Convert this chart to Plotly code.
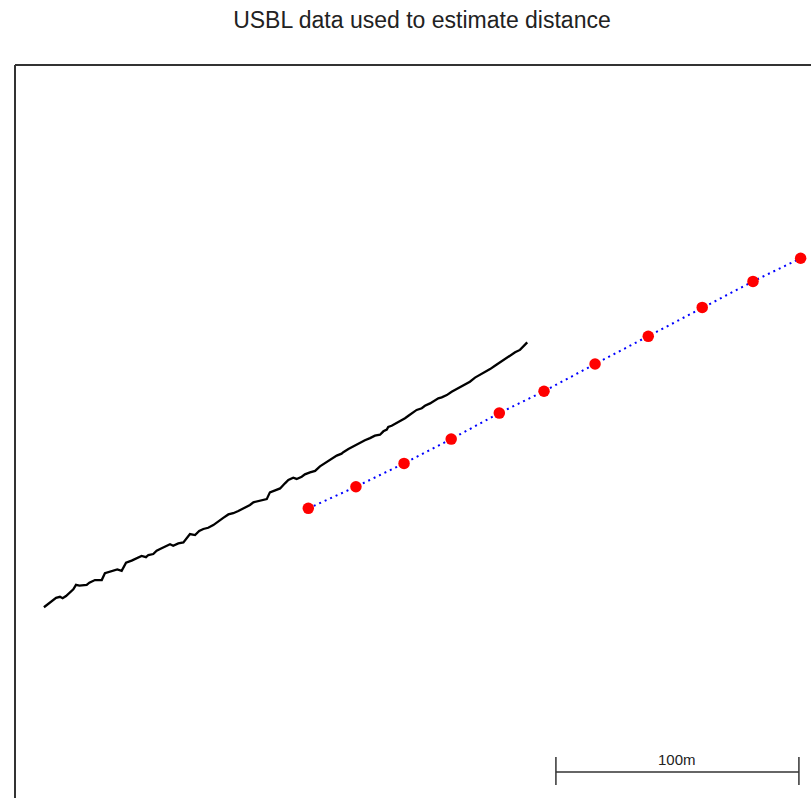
import plotly.graph_objects as go

# Vessel track (metres east / north of the local origin)
track_east = [11.9, 13.0, 15.8, 16.9, 18.5, 19.6, 21.0, 22.3, 23.3, 24.0, 25.1, 26.5, 29.5, 30.6,
              32.9, 35.7, 37.0, 39.1, 40.7, 42.1, 43.9, 45.7, 48.0, 50.1, 52.1, 53.9, 54.9, 56.9,
              58.3, 59.7, 62.4, 63.8, 65.1, 67.2, 69.3, 70.7, 72.0, 74.1, 75.8, 77.5, 79.5, 81.6,
              83.7, 85.7, 87.8, 89.8, 91.9, 94.6, 96.7, 98.1, 100.1, 102.2, 103.6, 104.9, 107.0,
              109.1, 111.1, 112.5, 114.5, 115.9, 118.0, 119.3, 121.4, 123.5, 125.5, 127.2, 128.3,
              130.3, 132.4, 134.4, 135.1, 137.2, 139.2, 142.0, 144.0, 146.1, 148.1, 150.2, 151.6,
              153.0, 153.6, 155.0, 157.1, 158.4, 160.5, 161.9, 163.9, 165.3, 167.4, 168.7, 170.8,
              172.1, 174.2, 175.6, 177.7, 179.7, 181.8, 183.8, 185.2, 187.2, 189.3, 191.4, 193.4,
              195.5, 197.5, 199.6, 201.6, 203.7, 205.8, 207.8, 210.8]
track_north = [78.5, 79.3, 81.5, 82.4, 82.8, 82.2, 83.1, 84.2, 85.2, 85.9, 87.7, 87.4, 87.7, 88.6,
               89.7, 89.7, 92.5, 93.1, 93.8, 94.1, 93.5, 96.8, 97.7, 98.6, 99.6, 99.1, 100.0, 100.4,
               101.8, 102.5, 103.7, 104.4, 103.8, 104.8, 105.2, 106.9, 108.6, 108.2, 109.9, 110.7,
               111.2, 112.3, 114.0, 115.3, 116.7, 117.2, 118.1, 119.5, 120.6, 121.7, 122.2, 122.5,
               123.0, 125.8, 126.7, 127.4, 129.5, 130.9, 131.8, 131.3, 132.2, 133.2, 134.0, 134.6,
               136.5, 137.6, 138.6, 139.9, 140.9, 141.7, 142.3, 143.6, 144.7, 146.1, 147.2, 148.1,
               149.1, 149.5, 150.9, 151.6, 152.7, 153.2, 154.3, 155.1, 156.3, 157.3, 158.7, 159.7,
               160.4, 161.4, 162.4, 163.1, 164.5, 164.9, 165.8, 167.2, 168.3, 169.3, 170.2, 171.3,
               173.0, 174.1, 175.2, 176.5, 177.9, 179.3, 180.7, 182.0, 183.4, 184.4, 187.5]

# USBL position fixes
usbl_east = [120.7, 140.3, 160.1, 179.5, 199.3, 217.7, 238.7, 260.6, 282.8, 303.7, 323.3]
usbl_north = [119.2, 128.1, 137.7, 147.7, 158.4, 167.4, 178.6, 190.0, 201.9, 212.6, 222.1]

# Scale bar
scale_len_m = 100
scale_label = "100m"
scale_start_east = 222.6
scale_north = 10.7

x_range = [0, 327.57]
y_range = [0, 301.65]

fig = go.Figure()

fig.add_trace(go.Scatter(
    x=track_east, y=track_north, mode="lines",
    line=dict(color="black", width=2.3),
    hoverinfo="skip", showlegend=False,
))

fig.add_trace(go.Scatter(
    x=usbl_east, y=usbl_north, mode="lines+markers",
    line=dict(color="#0000ff", width=2, dash="2px,4px"),
    marker=dict(color="#ff0000", size=11.5),
    showlegend=False,
))

bar_color = "#333333"
x0 = scale_start_east
x1 = scale_start_east + scale_len_m
shapes = [
    # frame (left and top edges of the panel)
    dict(type="line", xref="paper", yref="paper", x0=0, x1=0, y0=0, y1=1,
         line=dict(color="#333333", width=2)),
    dict(type="line", xref="paper", yref="paper", x0=0, x1=1, y0=1, y1=1,
         line=dict(color="#333333", width=2)),
    # scale bar
    dict(type="line", xref="x", yref="y", x0=x0, x1=x1, y0=scale_north, y1=scale_north,
         line=dict(color=bar_color, width=1.5)),
    dict(type="line", xref="x", yref="y", x0=x0, x1=x0, y0=scale_north - 5.3, y1=scale_north + 6.2,
         line=dict(color=bar_color, width=1.5)),
    dict(type="line", xref="x", yref="y", x0=x1, x1=x1, y0=scale_north - 5.3, y1=scale_north + 6.2,
         line=dict(color=bar_color, width=1.5)),
]

fig.update_layout(
    width=811, height=798,
    margin=dict(l=15, r=0, t=65, b=0),
    paper_bgcolor="white", plot_bgcolor="white",
    title=dict(text="USBL data used to estimate distance",
               x=0.5203, xanchor="center", y=0.975, yanchor="middle",
               font=dict(family="Liberation Sans, Arial, sans-serif", size=23, color="#222222")),
    xaxis=dict(range=x_range, visible=False, showgrid=False, zeroline=False),
    yaxis=dict(range=y_range, visible=False, showgrid=False, zeroline=False),
    shapes=shapes,
    annotations=[dict(
        x=(x0 + x1) / 2, y=scale_north, xref="x", yref="y",
        text=scale_label, showarrow=False, xanchor="center", yanchor="bottom", yshift=2,
        font=dict(family="Liberation Sans, Arial, sans-serif", size=15, color="#222222"),
    )],
)

fig.write_html("out.html")
